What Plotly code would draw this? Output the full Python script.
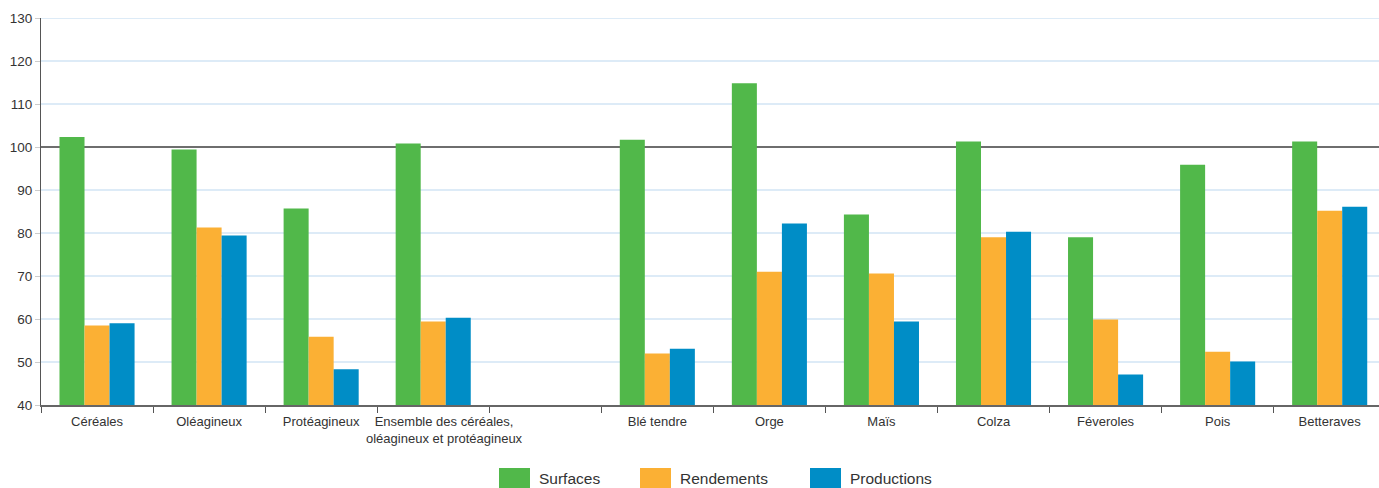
import plotly.graph_objects as go

NB = "\u00a0" * 6
categories = ["Céréales", "Oléagineux", "Protéagineux",
              NB + "Ensemble des céréales,<br>" + NB + "oléagineux et protéagineux", " ",
              "Blé tendre", "Orge", "Maïs", "Colza", "Féveroles", "Pois", "Betteraves"]
surfaces = [102.3, 99.4, 85.7, 100.8, None, 101.7, 114.8, 84.3, 101.3, 79.0, 95.9, 101.3]
rendements = [58.5, 81.3, 55.9, 59.4, None, 52.0, 71.0, 70.6, 79.0, 59.9, 52.4, 85.2]
productions = [59.0, 79.4, 48.3, 60.3, None, 53.1, 82.2, 59.4, 80.3, 47.1, 50.1, 86.1]
series_names = ["Surfaces", "Rendements", "Productions"]
y_ticks = [40, 50, 60, 70, 80, 90, 100, 110, 120, 130]
ref_value = 100

colors = ["#51b84a", "#fbb034", "#008dc6"]
W, H = 1379, 488
ML, MR, MT, MB = 41, 0, 18, 83
PW, PH = W - ML - MR, H - MT - MB

fig = go.Figure()
for name, vals, col in zip(series_names, [surfaces, rendements, productions], colors):
    fig.add_trace(go.Bar(x=categories, y=vals, name=name, marker=dict(color=col, line=dict(width=0)),
                         showlegend=False, hoverinfo="skip"))

font_family = "Liberation Sans, Arial, sans-serif"
fig.update_layout(
    width=W, height=H,
    margin=dict(l=ML, r=MR, t=MT, b=MB, autoexpand=False),
    paper_bgcolor="white", plot_bgcolor="white",
    barmode="group", bargap=0.33, bargroupgap=0,
    font=dict(family=font_family, color="#333333", size=13),
    xaxis=dict(type="category", range=[-0.5, 11.44], tickson="boundaries",
               ticks="outside", ticklen=6, tickcolor="#555555", tickwidth=1,
               tickangle=0, automargin=False, ticklabelstandoff=4,
               showline=True, linecolor="#666666", linewidth=1.5, showgrid=False,
               tickfont=dict(size=13, color="#333333")),
    yaxis=dict(range=[40, 130], tickvals=y_ticks, ticks="outside", ticklen=5,
               automargin=False, showgrid=False,
               tickcolor="#cccccc", showline=True, linecolor="#555555", linewidth=1,
               zeroline=False,
               tickfont=dict(size=13.5, color="#333333")),
)

# gridlines drawn as shapes below the bars; the 100 line is darker
for t in y_ticks[1:]:
    dark = (t == ref_value)
    fig.add_shape(type="line", xref="paper", yref="y", x0=0, x1=1, y0=t, y1=t,
                  line=dict(color="#6e6e6e" if dark else "#d2e5f4", width=2 if dark else 1.5),
                  layer="below")

# manual legend with large swatches
def px_x(px):
    return (px - ML) / PW

def px_y(py):
    return (MT + PH - py) / PH

legend_px = [499, 640, 810]
for name, col, lx in zip(series_names, colors, legend_px):
    fig.add_shape(type="rect", xref="paper", yref="paper",
                  x0=px_x(lx), x1=px_x(lx + 31), y0=px_y(488), y1=px_y(468),
                  fillcolor=col, line=dict(width=0))
    fig.add_annotation(xref="paper", yref="paper", x=px_x(lx + 38), y=px_y(478),
                       xanchor="left", yanchor="middle", showarrow=False, text=name,
                       font=dict(size=15.5, color="#333333", family=font_family))

fig.write_html("out.html", config={"displayModeBar": False},
               post_script="document.body.style.margin='0';document.body.style.overflow='hidden';")
